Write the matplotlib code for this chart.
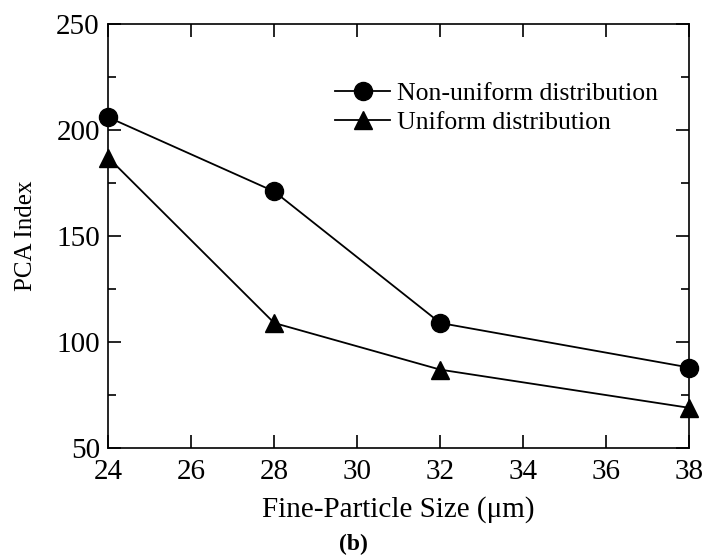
import matplotlib.pyplot as plt
from matplotlib.ticker import MultipleLocator

plt.rcParams['font.family'] = ['Liberation Serif', 'DejaVu Serif']

# data
sizes = [24, 28, 32, 38]
non_uniform = [206, 171, 109, 88]
uniform = [187, 109, 87, 69]

fig = plt.figure(figsize=(7.07, 5.56), dpi=100)
ax = fig.add_axes([0.153, 0.194, 0.822, 0.763])

ax.plot(sizes, non_uniform, color='black', lw=1.3, marker='o', ms=13,
        label='Non-uniform distribution', clip_on=False, zorder=3)
ax.plot(sizes, uniform, color='black', lw=1.3, marker='^', ms=13,
        label='Uniform distribution', clip_on=False, zorder=3)

ax.set_xlim(24, 38)
ax.set_ylim(50, 250)
ax.xaxis.set_major_locator(MultipleLocator(2))
ax.yaxis.set_major_locator(MultipleLocator(50))
ax.yaxis.set_minor_locator(MultipleLocator(25))

ax.tick_params(which='both', direction='in', top=True, right=True,
               labelsize=21, width=1.2)
ax.tick_params(which='major', length=9.5)
ax.tick_params(which='minor', length=6)
ax.tick_params(axis='x', pad=8)
ax.tick_params(axis='y', pad=6)
for sp in ax.spines.values():
    sp.set_linewidth(1.2)

ax.set_xlabel('Fine-Particle Size (\u03bcm)', fontsize=21, labelpad=8)
ax.set_ylabel('PCA Index', fontsize=18, labelpad=14)

ax.legend(loc='upper left', bbox_to_anchor=(0.391, 0.862), frameon=False,
          fontsize=18.5, handlelength=2.14, handletextpad=0.27,
          labelspacing=0.2, borderaxespad=0, borderpad=0)

fig.text(0.5, 0.02, '(b)', ha='center', va='center', fontsize=17,
         fontweight='bold')

fig.savefig('out.png', dpi=100)
